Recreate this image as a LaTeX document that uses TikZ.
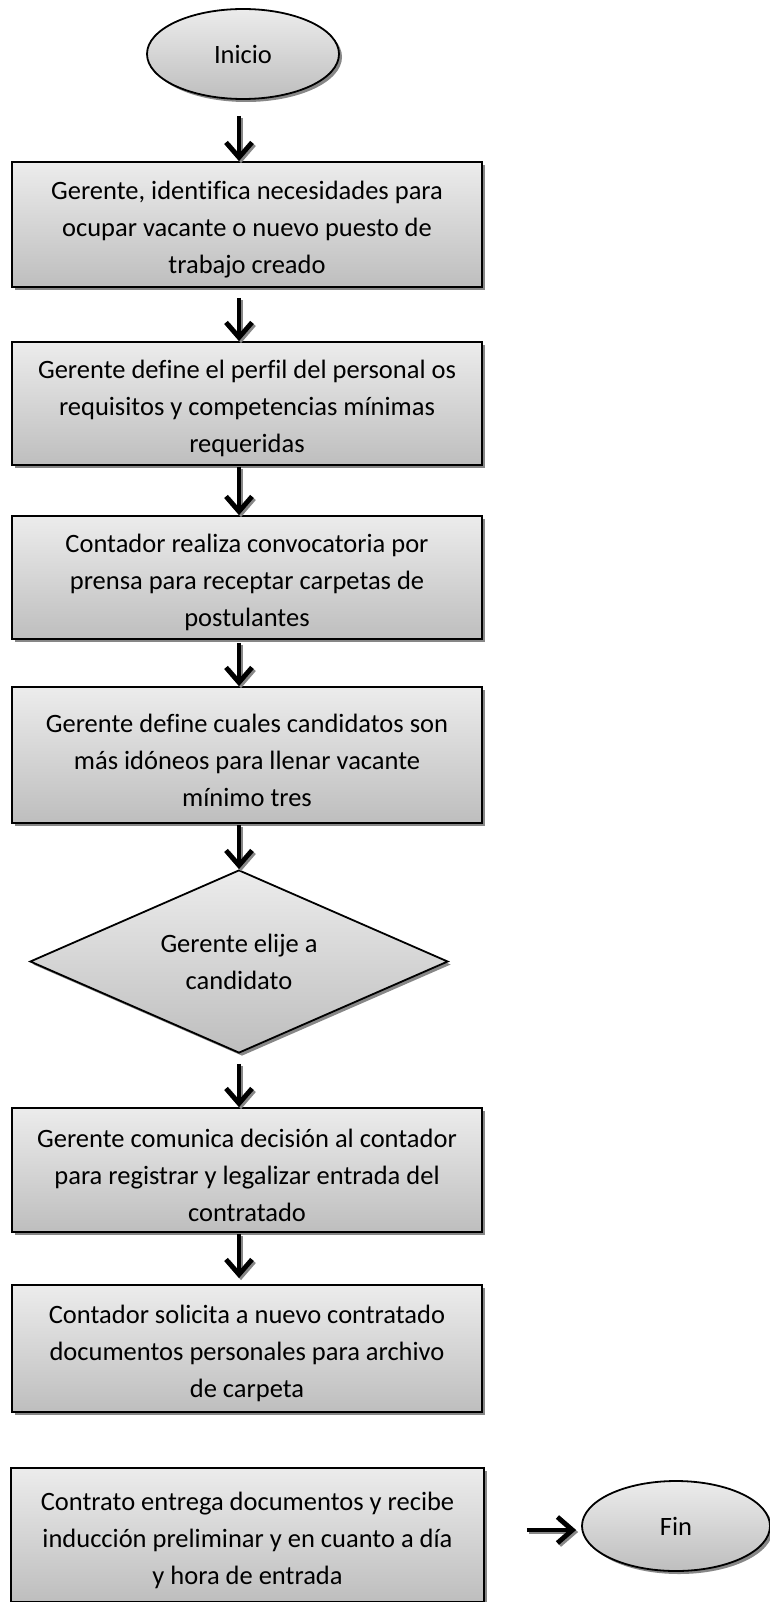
\documentclass[tikz,border=0pt]{standalone}
\usepackage{fontspec}
\setmainfont{Carlito}[Ligatures=NoCommon]
\usetikzlibrary{shapes.geometric,shadows,arrows.meta}
\definecolor{filltop}{RGB}{236,236,236}
\definecolor{fillbot}{RGB}{190,190,190}
\definecolor{shadowgray}{RGB}{135,135,135}
% extra room above the first line, so the lines sit a little lower in the box
\newcommand\toproom{\rule{0pt}{29pt}}
\tikzset{
  base/.style={draw=black, line width=1.8pt, top color=filltop, bottom color=fillbot,
    drop shadow={shadow xshift=3pt, shadow yshift=-3pt, fill=shadowgray, opacity=1},
    font=\fontsize{26.5}{37}\selectfont, align=center, inner sep=0pt},
  procbox/.style={base, rectangle, minimum width=470pt},
  term/.style={base, ellipse},
  decision/.style={base, diamond, aspect=2.3, minimum width=418pt, minimum height=183pt},
  arr/.style={line width=4.8pt, -{Straight Barb[length=15pt,width=26pt]},
    preaction={draw=shadowgray, line width=4.8pt, transform canvas={xshift=2pt,yshift=-2pt}}}
}
\begin{document}
\begin{tikzpicture}[x=1pt, y=-1pt]
\useasboundingbox (0,0) rectangle (770,1602);

% terminals
\node[term, minimum width=192pt, minimum height=90pt] (inicio) at (243,54) {Inicio};
\node[term, minimum width=188pt, minimum height=90pt] (fin) at (676,1526) {Fin};

% process steps
\node[procbox, minimum height=125pt] (b1) at (247,224.5)
  {\toproom Gerente, identifica necesidades para\\ocupar vacante o nuevo puesto de\\trabajo creado};
\node[procbox, minimum height=123pt] (b2) at (247,403.5)
  {\toproom Gerente define el perfil del personal os\\requisitos y competencias mínimas\\requeridas};
\node[procbox, minimum height=123pt] (b3) at (247,577.5)
  {\toproom Contador realiza convocatoria por\\prensa para receptar carpetas de\\postulantes};
\node[procbox, minimum height=136pt] (b4) at (247,755)
  {\toproom Gerente define cuales candidatos son\\más idóneos para llenar vacante\\mínimo tres};
\node[decision] (d1) at (239,961.5) {Gerente elije a\\candidato};
\node[procbox, minimum height=124pt] (b5) at (247,1170)
  {\toproom Gerente comunica decisión al contador\\para registrar y legalizar entrada del\\contratado};
\node[procbox, minimum height=127pt] (b6) at (247,1348.5)
  {\toproom Contador solicita a nuevo contratado\\documentos personales para archivo\\de carpeta};
\node[procbox, minimum width=473pt, minimum height=134pt] (b7) at (247.5,1535)
  {\toproom Contrato entrega documentos y recibe\\inducción preliminar y en cuanto a día\\y hora de entrada};

% connectors
\draw[arr] ([xshift=-4pt,yshift=-16pt]inicio.south) -- ([xshift=-8pt]b1.north);
\draw[arr] ([xshift=-8pt,yshift=-10pt]b1.south) -- ([xshift=-8pt]b2.north);
\draw[arr] ([xshift=-8pt,yshift=-1pt]b2.south) -- ([xshift=-8pt]b3.north);
\draw[arr] ([xshift=-8pt,yshift=-3pt]b3.south) -- ([xshift=-8pt]b4.north);
\draw[arr] ([xshift=-8pt,yshift=-1pt]b4.south) -- (d1.north);
\draw[arr] ([yshift=-10pt]d1.south) -- ([xshift=-8pt]b5.north);
\draw[arr] ([xshift=-8pt,yshift=-1pt]b5.south) -- ([xshift=-8pt,yshift=6pt]b6.north);
\draw[arr] ([xshift=42pt,yshift=5pt]b7.east) -- ([xshift=-5pt,yshift=-4pt]fin.west);
\end{tikzpicture}
\end{document}
